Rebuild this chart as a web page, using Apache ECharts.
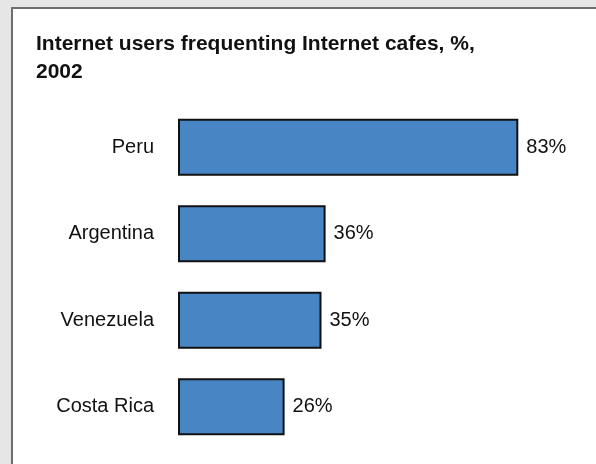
<!DOCTYPE html>
<html>
<head>
<meta charset="utf-8">
<script src="https://cdn.jsdelivr.net/npm/echarts@6/dist/echarts.min.js"></script>
<style>
  html, body { margin: 0; padding: 0; }
  #main { width: 596px; height: 464px; }
</style>
</head>
<body>
<div id="main"></div>
<script>
// data
const countries = ['Peru', 'Argentina', 'Venezuela', 'Costa Rica'];
const usersAtCafes = [83, 36, 35, 26];

const font = '"Liberation Sans", Arial, sans-serif';

const chart = echarts.init(document.getElementById('main'));
chart.setOption({
  backgroundColor: '#e6e6e6',
  animation: false,
  graphic: [{
    type: 'rect',
    z: -10,
    shape: { x: 12, y: 8, width: 620, height: 500 },
    style: { fill: '#fff', stroke: '#6e6e6e', lineWidth: 2 }
  }],
  title: {
    text: 'Internet users frequenting Internet cafes, %,\n2002',
    left: 36,
    top: 30,
    padding: 0,
    textStyle: {
      fontFamily: font,
      fontWeight: 'bold',
      fontSize: 21,
      lineHeight: 28,
      color: '#111'
    }
  },
  grid: { left: 178, right: 8, top: 104, bottom: 14 },
  xAxis: {
    type: 'value',
    min: 0,
    max: 100,
    show: false
  },
  yAxis: {
    type: 'category',
    inverse: true,
    data: countries,
    axisLine: { show: false },
    axisTick: { show: false },
    axisLabel: {
      margin: 24,
      fontFamily: font,
      fontSize: 20,
      color: '#111'
    }
  },
  series: [{
    type: 'bar',
    data: usersAtCafes,
    barWidth: 57,
    itemStyle: {
      color: '#4785c4',
      borderColor: '#111',
      borderWidth: 2
    },
    label: {
      show: true,
      position: 'right',
      distance: 8,
      formatter: '{c}%',
      fontFamily: font,
      fontSize: 20,
      color: '#111'
    }
  }]
});
</script>
</body>
</html>
